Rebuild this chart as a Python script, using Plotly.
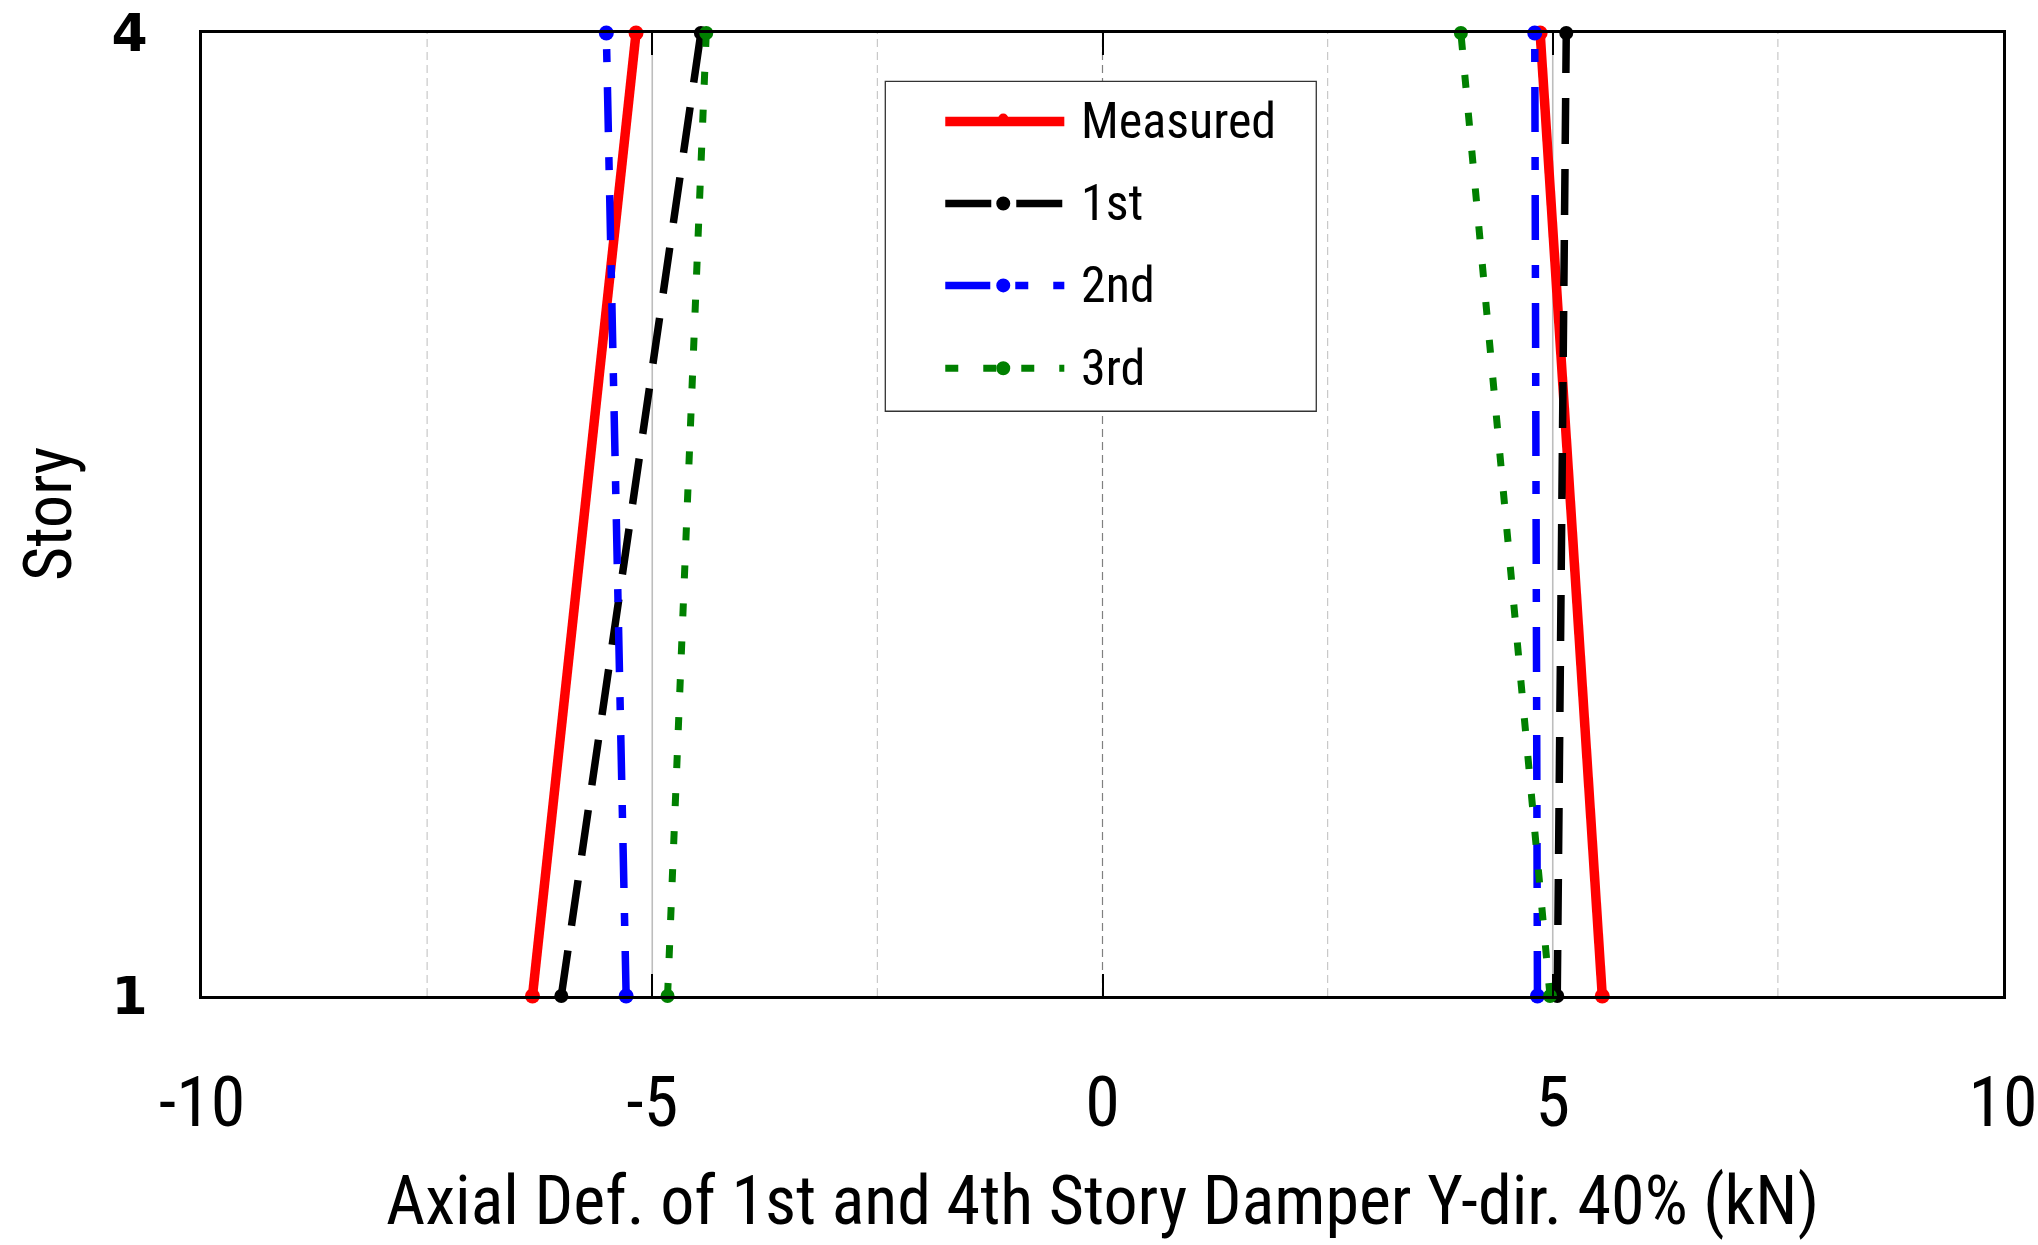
import plotly.graph_objects as go

# Story levels (1st and 4th story dampers)
story = [1, 4]

# Axial deformation, compression side (negative) and tension side (positive)
measured_neg = [-6.33, -5.18]
measured_pos = [5.55, 4.86]
first_neg = [-6.01, -4.46]
first_pos = [5.05, 5.15]
second_neg = [-5.29, -5.51]
second_pos = [4.83, 4.80]
third_neg = [-4.83, -4.40]
third_pos = [4.97, 3.98]

series_names = ["Measured", "1st", "2nd", "3rd"]
x_ticks = [-10, -5, 0, 5, 10]
y_ticks = [1, 4]
grid_dashed = [-7.5, -2.5, 2.5, 7.5]
grid_solid = [-5, 5]
grid_zero = [0]

styles = [
    dict(color="#ff0000", width=9.5, dash="solid", msize=15),
    dict(color="#000000", width=7.5, dash="46px,25px", msize=14),
    dict(color="#0000ff", width=7.5, dash="45px,25px,13px,25px", msize=15),
    dict(color="#008000", width=7, dash="13px,25px", msize=14),
]

data = [
    (measured_neg, measured_pos),
    (first_neg, first_pos),
    (second_neg, second_pos),
    (third_neg, third_pos),
]

COND = "Roboto Condensed, Liberation Sans Narrow, sans-serif"

fig = go.Figure()
for name, (neg, pos), st in zip(series_names, data, styles):
    xs = list(neg) + [None] + list(pos)
    ys = list(story) + [None] + list(story)
    fig.add_trace(go.Scatter(
        x=xs, y=ys, name=name, mode="lines+markers",
        line=dict(color=st["color"], width=st["width"], dash=st["dash"]),
        marker=dict(color=st["color"], size=st["msize"], symbol="circle"),
        cliponaxis=False, connectgaps=False, showlegend=False,
    ))

shapes = []
# vertical reference grid
for v in grid_dashed:
    shapes.append(dict(type="line", xref="x", yref="paper", x0=v, x1=v, y0=0, y1=1, layer="below",
                       line=dict(color="#c8c8c8", width=1.2, dash="8px,5px")))
for v in grid_solid:
    shapes.append(dict(type="line", xref="x", yref="paper", x0=v, x1=v, y0=0, y1=1, layer="below",
                       line=dict(color="#bdbdbd", width=1.6)))
for v in grid_zero:
    shapes.append(dict(type="line", xref="x", yref="paper", x0=v, x1=v, y0=0, y1=1, layer="below",
                       line=dict(color="#808080", width=1.2, dash="8px,5px")))

# legend box drawn in paper space
leg_x0, leg_x1 = 0.3794, 0.6187
leg_y0, leg_y1 = 0.6072, 0.9497
row_y = [0.9081, 0.8230, 0.7379, 0.6518]
samp_x0, samp_x1, samp_mid = 0.4127, 0.4788, 0.4449
text_x = 0.4871

shapes.append(dict(type="rect", xref="paper", yref="paper", x0=leg_x0, x1=leg_x1, y0=leg_y0, y1=leg_y1,
                   line=dict(color="#333333", width=1.3), fillcolor="white", layer="above"))

annotations = []
for name, st, yy in zip(series_names, styles, row_y):
    shapes.append(dict(type="line", xref="paper", yref="paper", x0=samp_x0, x1=samp_x1, y0=yy, y1=yy,
                       line=dict(color=st["color"], width=st["width"], dash=st["dash"]), layer="above"))
    r = 5 if name == "Measured" else 7
    lift = 3 if name == "Measured" else 0
    shapes.append(dict(type="circle", xref="paper", yref="paper", xsizemode="pixel", ysizemode="pixel",
                       xanchor=samp_mid, yanchor=yy, x0=-r, x1=r, y0=-r + lift, y1=r + lift,
                       fillcolor=st["color"], line=dict(width=0), layer="above"))
    annotations.append(dict(x=text_x, y=yy, xref="paper", yref="paper", xanchor="left", yanchor="middle",
                            text=name, showarrow=False, font=dict(family=COND, size=50, color="black")))

# axis titles
annotations.append(dict(x=0.5, y=-0.213, xref="paper", yref="paper", xanchor="center", yanchor="middle",
                        text="Axial Def. of 1st and 4th Story Damper Y-dir. 40% (kN)", showarrow=False,
                        font=dict(family=COND, size=68, color="black")))
annotations.append(dict(x=-0.0852, y=0.5, xref="paper", yref="paper", xanchor="center", yanchor="middle",
                        text="Story", textangle=-90, showarrow=False,
                        font=dict(family=COND, size=66, color="black")))

fig.update_layout(
    width=2038, height=1245,
    margin=dict(l=202, r=35, t=33, b=249, autoexpand=False),
    paper_bgcolor="white", plot_bgcolor="white",
    showlegend=False,
    shapes=shapes, annotations=annotations,
    xaxis=dict(range=[-10, 10], tickvals=x_ticks, ticktext=[str(v) for v in x_ticks],
               showgrid=False, zeroline=False, showline=True, linecolor="black", linewidth=3,
               mirror="ticks", ticks="inside", ticklen=22, tickwidth=1.5, tickcolor="black",
               tickfont=dict(family=COND, size=70, color="black"), ticklabelstandoff=43,
               automargin=False),
    yaxis=dict(range=[1, 4], tickvals=y_ticks, ticktext=[str(v) for v in y_ticks],
               showgrid=False, zeroline=False, showline=True, linecolor="black", linewidth=3,
               mirror=True, ticks="",
               tickfont=dict(family="DejaVu Sans", size=52, color="black", weight="bold"),
               ticklabelstandoff=41, automargin=False),
)

fig.write_html("out.html")
